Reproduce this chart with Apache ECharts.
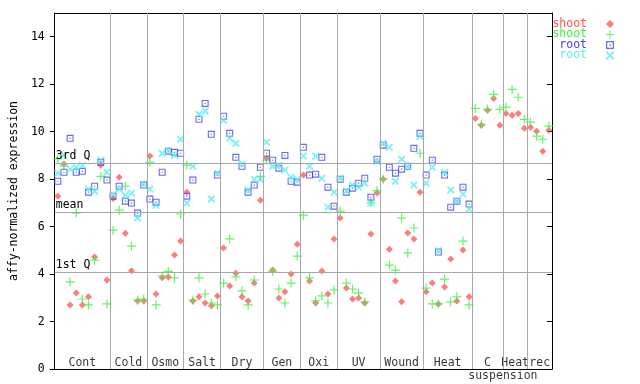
<!DOCTYPE html>
<html><head><meta charset="utf-8">
<script src="https://cdn.jsdelivr.net/npm/echarts@6/dist/echarts.min.js"></script>
<style>html,body{margin:0;padding:0;background:#fff}#c{width:640px;height:384px}</style>
</head><body><div id="c"></div>
<script>
// ---- data ----
const groupNames = ['Cont','Cold','Osmo','Salt','Dry','Gen','Oxi','UV','Wound','Heat','C','Heat','rec'];
const groupSizes = [9,6,6,6,7,6,6,7,7,8,5,4,4];
const subLabelText = 'suspension';
const subLabelGroup = 10;
const quartileNames = ['3rd Q','mean','1st Q'];
const quartileValues = [8.67, 6.61, 4.09];
const yMin = 0, yMax = 15, yStep = 2;

const shootRed = [7.28,8.64,2.70,3.20,2.70,3.04,4.72,8.59,3.75,
  7.18,8.08,5.72,4.14,2.87,2.87,
  8.97,3.16,3.84,3.88,4.80,5.39,
  7.45,2.87,3.04,2.78,2.66,3.08,
  5.10,3.50,4.03,3.04,2.87,3.62,7.11,
  8.88,4.17,2.99,3.25,4.00,5.26,
  8.17,3.71,2.78,4.13,3.16,5.48,
  6.36,3.41,2.95,2.99,2.78,5.69,7.42,
  8.00,5.05,3.71,2.83,5.73,5.48,7.45,
  3.25,3.62,2.74,3.46,4.63,2.87,5.01,3.04,
  10.56,10.27,10.90,11.40,10.27,
  10.77,10.69,10.77,10.14,
  10.19,10.02,9.18,10.06];
const shootGreen = [8.85,8.56,3.67,6.57,2.95,2.70,4.59,8.12,2.74,
  5.85,6.69,7.70,5.18,2.90,2.95,
  8.71,2.70,3.92,4.11,3.84,6.53,
  8.59,2.90,3.84,3.16,2.78,2.70,
  3.62,5.48,3.88,3.29,2.70,3.75,8.12,
  8.80,4.11,3.37,2.78,3.62,4.76,
  6.48,3.84,2.87,3.08,2.78,3.33,
  6.65,3.62,3.37,3.20,2.83,7.00,7.52,
  8.00,4.38,4.17,6.36,4.89,5.94,9.09,
  3.41,2.74,2.74,3.79,2.83,3.04,5.39,2.70,
  10.98,10.31,10.94,11.57,10.94,
  11.03,11.78,11.45,10.52,
  10.40,9.81,9.68,10.23];
const rootBlue = [7.91,8.29,9.72,8.29,8.33,7.45,7.70,8.71,7.96,
  7.28,7.70,7.07,6.99,6.57,7.75,
  7.16,7.03,8.29,9.18,9.13,9.09,
  7.28,7.96,10.52,11.19,9.89,8.17,
  10.65,9.93,8.92,8.54,7.45,7.75,8.50,
  9.09,8.80,8.46,9.00,7.91,7.87,
  9.34,8.17,8.21,8.92,7.66,6.86,
  8.00,7.45,7.62,7.83,8.04,7.24,8.84,
  9.43,8.50,8.25,8.42,8.54,9.30,9.93,
  8.17,8.80,4.93,8.17,6.82,7.07,7.66,6.95];
const rootCyan = [8.25,9.02,8.42,8.50,8.59,7.58,7.49,8.80,8.29,
  7.35,7.58,7.32,7.41,6.36,7.80,
  7.58,6.90,9.09,9.18,9.00,9.68,
  6.99,8.54,10.73,10.86,7.16,8.25,
  10.48,9.72,9.51,8.64,7.54,8.00,8.00,
  9.55,8.54,8.59,8.38,8.08,8.00,
  8.97,8.54,8.97,8.04,6.82,7.45,
  8.04,7.50,7.75,7.66,7.83,6.99,8.75,
  9.51,9.34,7.91,8.84,8.54,7.75,9.80,
  7.83,8.50,4.98,8.29,7.54,7.07,7.37,6.74];

// ---- derived ----
const nSamples = groupSizes.reduce((a,b)=>a+b,0);
const bounds = []; let acc = 0;
const centers = [];
groupSizes.forEach(s => { centers.push(acc + s/2 - 0.5); acc += s; bounds.push(acc - 0.5); });
const inner = bounds.slice(0, -1);
const toPts = arr => arr.map((v,i)=>[i,v]).filter(p=>p[1]!=null);

const FONT = "'DejaVu Sans Mono', monospace";
const FS = 11.5;
const C_RED = '#ff5050', C_GREEN = '#40f040', C_BLUE = '#4444f0', C_CYAN = '#55eeee';
const SYM_DIAMOND = 'path://M3.5,0L7,3.5L3.5,7L0,3.5Z';
const SYM_PLUS = 'path://M3.9,0H5.1V9H3.9Z M0,3.9H9V5.1H0Z';
const SYM_SQUARE = 'path://M0,0H7V7H0Z M1.1,1.1V5.9H5.9V1.1Z M2.9,2.9H4.1V4.1H2.9Z';
const SYM_X = 'path://M0,0L1.2,0L7,5.8L7,7L5.8,7L0,1.2Z M7,0L7,1.2L1.2,7L0,7L0,5.8L5.8,0Z';

const chart = echarts.init(document.getElementById('c'), null, {renderer:'canvas'});
const labelData = groupNames.map((n,i)=>({name:n, value:[centers[i], 0]}));
const subData = [{name: subLabelText, value:[bounds[subLabelGroup], 0]}];

chart.setOption({
  animation: false,
  backgroundColor: '#fff',
  grid: {left: 44, right: 88, top: 13, bottom: 15, containLabel: false},
  legend: {
    orient: 'vertical', right: 26, top: 18, padding: 0,
    align: 'right', itemWidth: 36, itemHeight: 8, itemGap: -1.5,
    formatter: n => n.replace(/\d$/, ''),
    textStyle: {fontFamily: FONT, fontSize: FS},
    data: [
      {name:'shoot1', textStyle:{color:C_RED}},
      {name:'shoot2', textStyle:{color:C_GREEN}},
      {name:'root1', textStyle:{color:C_BLUE}},
      {name:'root2', textStyle:{color:C_CYAN}}
    ]
  },
  xAxis: [
    {type:'value', min:-0.5, max:nSamples-0.5, position:'bottom',
     axisLine:{show:true, onZero:false, lineStyle:{color:'#000', width:1}},
     axisTick:{show:false}, axisLabel:{show:false}, splitLine:{show:false}},
    {type:'value', min:-0.5, max:nSamples-0.5, position:'top',
     axisLine:{show:true, onZero:false, lineStyle:{color:'#000', width:1}},
     axisTick:{show:false}, axisLabel:{show:false}, splitLine:{show:false}}
  ],
  yAxis: [
    {type:'value', min:yMin, max:yMax, interval:yStep, position:'left',
     name:'affy-normalized expression', nameLocation:'middle', nameGap:27,
     nameTextStyle:{fontFamily:FONT, fontSize:FS, color:'#000'},
     axisLine:{show:true, onZero:false, lineStyle:{color:'#000', width:1}},
     axisTick:{show:true, inside:false, length:5, lineStyle:{color:'#000'}},
     axisLabel:{show:true, margin:10, fontFamily:FONT, fontSize:FS, color:'#000', showMaxLabel:false},
     splitLine:{show:false}},
    {type:'value', min:yMin, max:yMax, interval:yStep, position:'right',
     axisLine:{show:true, onZero:false, lineStyle:{color:'#000', width:1}},
     axisTick:{show:true, inside:true, length:5, lineStyle:{color:'#000'}},
     axisLabel:{show:false}, splitLine:{show:false}}
  ],
  series: [
    {type:'scatter', name:'guides', data:[], z:1, silent:true,
     markLine:{silent:true, symbol:['none','none'], animation:false,
       lineStyle:{color:'#a8a8a8', type:'solid', width:1},
       label:{show:false},
       data: inner.map(b=>({xAxis:b})).concat(
         quartileValues.map((v,i)=>({yAxis:v, name:quartileNames[i],
           label:{show:true, formatter:'{b}', position:'insideStartTop', distance:[1,1],
             color:'#000', fontFamily:FONT, fontSize:FS, padding:0}})))
     }},
    {type:'scatter', name:'shoot1', data:toPts(shootRed), symbol:SYM_DIAMOND, symbolSize:7,
     itemStyle:{color:C_RED, opacity:0.75}, z:3},
    {type:'scatter', name:'shoot2', data:toPts(shootGreen), symbol:SYM_PLUS, symbolSize:9,
     itemStyle:{color:C_GREEN}, z:3},
    {type:'scatter', name:'root1', data:toPts(rootBlue), symbol:SYM_SQUARE, symbolSize:7,
     itemStyle:{color:C_BLUE}, z:3},
    {type:'scatter', name:'root2', data:toPts(rootCyan), symbol:SYM_X, symbolSize:7,
     itemStyle:{color:C_CYAN}, z:3},
    {type:'scatter', name:'grouplabels', data:labelData, symbolSize:0, silent:true, z:4,
     label:{show:true, formatter:'{b}', position:'top', distance:0, color:'#000',
       fontFamily:FONT, fontSize:FS}},
    {type:'scatter', name:'sublabel', data:subData, symbolSize:0, silent:true, z:4, clip:false,
     label:{show:true, formatter:'{b}', position:'bottom', distance:1, color:'#000',
       fontFamily:FONT, fontSize:FS}}
  ]
});
</script></body></html>
